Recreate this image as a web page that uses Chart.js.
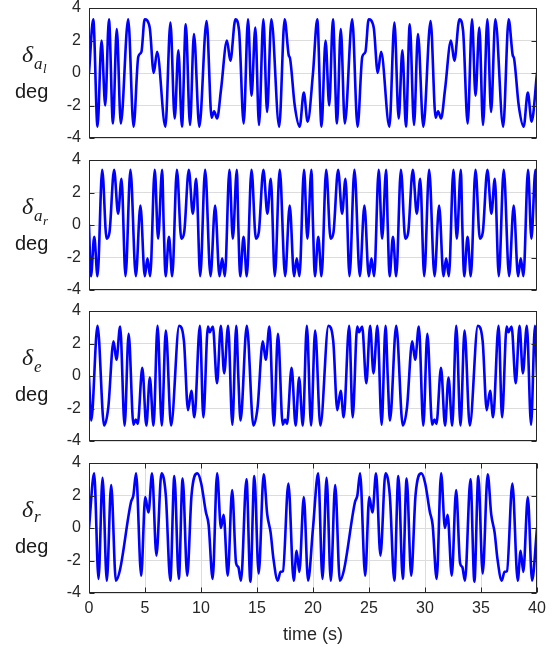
<!DOCTYPE html>
<html><head><meta charset="utf-8">
<script src="https://cdn.jsdelivr.net/npm/chart.js@4.4.0/dist/chart.umd.min.js"></script>
<style>
html,body{margin:0;padding:0;background:#fff;}
#wrap{position:relative;width:560px;height:648px;overflow:hidden;background:#fff;}
.pane{position:absolute;left:0;width:560px;}
canvas{display:block;}
</style></head><body>
<div id="wrap">
<div class="pane" style="top:0px;height:147px"><canvas id="c1" width="560" height="147"></canvas></div>
<div class="pane" style="top:150px;height:149px"><canvas id="c2" width="560" height="149"></canvas></div>
<div class="pane" style="top:300px;height:150px"><canvas id="c3" width="560" height="150"></canvas></div>
<div class="pane" style="top:452px;height:196px"><canvas id="c4" width="560" height="196"></canvas></div>
</div>
<script>
// ---- data (time s, deflection deg) ----
const xTicks = [0, 5, 10, 15, 20, 25, 30, 35, 40];
const yTicks = [-4, -2, 0, 2, 4];
const xTitle = 'time (s)';
const yUnit = 'deg';

const deltaAl = [[0,0],[0.38,3.3],[0.76,-3.3],[1.12,2.0],[1.45,-2.0],[1.78,3.3],[2.14,-3.1],[2.48,2.7],[2.84,-3.1],[3.50,3.3],[3.98,-3.3],[4.40,1.0],[4.68,1.3],[4.97,3.3],[5.42,2.8],[5.78,0.0],[6.08,1.3],[6.82,-3.3],[7.27,3.1],[7.65,-2.8],[7.98,1.4],[8.30,-3.3],[8.64,3.0],[9.02,-3.2],[9.37,2.4],[9.85,-3.3],[10.50,3.2],[10.95,-2.75],[11.17,-2.35],[11.44,-2.8],[11.79,-1.0],[12.32,2.0],[12.62,0.75],[13.07,3.3],[13.40,2.6],[13.81,-3.1],[14.20,3.3],[14.51,-1.4],[14.85,2.8],[15.18,-3.2],[15.57,3.3],[15.90,-2.4],[16.28,3.3],[16.98,-3.3],[17.47,3.3],[17.83,1.1],[17.95,0.9],[18.37,-2.0],[18.81,-3.3],[19.18,-1.2],[19.52,-3.0],
[20.00,0],[20.38,3.3],[20.76,-3.3],[21.12,2.0],[21.45,-2.0],[21.78,3.3],[22.14,-3.1],[22.48,2.7],[22.84,-3.1],[23.50,3.3],[23.98,-3.3],[24.40,1.0],[24.68,1.3],[24.97,3.3],[25.42,2.8],[25.78,0.0],[26.08,1.3],[26.82,-3.3],[27.27,3.1],[27.65,-2.8],[27.98,1.4],[28.30,-3.3],[28.64,3.0],[29.02,-3.2],[29.37,2.4],[29.85,-3.3],[30.50,3.2],[30.95,-2.75],[31.17,-2.35],[31.44,-2.8],[31.79,-1.0],[32.32,2.0],[32.62,0.75],[33.07,3.3],[33.40,2.6],[33.81,-3.1],[34.20,3.3],[34.51,-1.4],[34.85,2.8],[35.18,-3.2],[35.57,3.3],[35.90,-2.4],[36.28,3.3],[36.98,-3.3],[37.47,3.3],[37.83,1.1],[37.95,0.9],[38.37,-2.0],[38.81,-3.3],[39.18,-1.2],[39.52,-3.0],[40.00,0]];

const deltaAr = [[0,0],[0.17,-3.15],[0.47,-0.73],[0.76,-3.15],[1.18,3.4],[1.57,-0.84],[1.83,-0.45],[2.24,3.4],[2.60,0.7],[2.90,2.85],[3.26,-3.15],[3.70,3.4],[4.18,-3.15],[4.59,1.2],[4.98,-3.15],[5.22,-2.05],[5.46,-3.15],[5.87,3.4],[6.17,-0.84],[6.53,3.4],
[6.67,0],[6.84,-3.15],[7.14,-0.73],[7.43,-3.15],[7.85,3.4],[8.24,-0.84],[8.50,-0.45],[8.91,3.4],[9.27,0.7],[9.57,2.85],[9.93,-3.15],[10.37,3.4],[10.85,-3.15],[11.26,1.2],[11.65,-3.15],[11.89,-2.05],[12.13,-3.15],[12.54,3.4],[12.84,-0.84],[13.20,3.4],
[13.33,0],[13.50,-3.15],[13.80,-0.73],[14.09,-3.15],[14.51,3.4],[14.90,-0.84],[15.16,-0.45],[15.57,3.4],[15.93,0.7],[16.23,2.85],[16.59,-3.15],[17.03,3.4],[17.51,-3.15],[17.92,1.2],[18.31,-3.15],[18.55,-2.05],[18.79,-3.15],[19.20,3.4],[19.50,-0.84],[19.86,3.4],
[20.00,0],[20.17,-3.15],[20.47,-0.73],[20.76,-3.15],[21.18,3.4],[21.57,-0.84],[21.83,-0.45],[22.24,3.4],[22.60,0.7],[22.90,2.85],[23.26,-3.15],[23.70,3.4],[24.18,-3.15],[24.59,1.2],[24.98,-3.15],[25.22,-2.05],[25.46,-3.15],[25.87,3.4],[26.17,-0.84],[26.53,3.4],
[26.67,0],[26.84,-3.15],[27.14,-0.73],[27.43,-3.15],[27.85,3.4],[28.24,-0.84],[28.50,-0.45],[28.91,3.4],[29.27,0.7],[29.57,2.85],[29.93,-3.15],[30.37,3.4],[30.85,-3.15],[31.26,1.2],[31.65,-3.15],[31.89,-2.05],[32.13,-3.15],[32.54,3.4],[32.84,-0.84],[33.20,3.4],
[33.33,0],[33.50,-3.15],[33.80,-0.73],[34.09,-3.15],[34.51,3.4],[34.90,-0.84],[35.16,-0.45],[35.57,3.4],[35.93,0.7],[36.23,2.85],[36.59,-3.15],[37.03,3.4],[37.51,-3.15],[37.92,1.2],[38.31,-3.15],[38.55,-2.05],[38.79,-3.15],[39.20,3.4],[39.50,-0.84],[39.86,3.4],[40.00,0]];

const deltaE = [[0,0],[0.20,-2.74],[0.76,3.09],[1.35,-3.05],[1.72,-1.95],[2.19,2.13],[2.45,1.0],[2.78,3.05],[3.18,-3.05],[3.54,2.6],[3.97,-3.0],[4.17,-2.68],[4.35,-2.95],[4.76,0.5],[5.12,-3.05],[5.43,-0.1],[5.76,-3.05],[6.12,3.09],[6.50,-3.05],[6.86,2.8],[7.33,-3.05],[8.05,3.09],[8.48,2.13],[8.84,-2.1],[9.14,-0.91],[9.41,-2.54],[9.90,3.09],[10.21,-2.54],[10.62,3.05],[10.78,2.7],[11.06,3.05],[11.43,-0.45],[11.77,3.09],[12.07,0.16],[12.42,3.09],[12.80,-3.0],[13.15,3.09],
[13.33,0],[13.53,-2.74],[14.09,3.09],[14.68,-3.05],[15.05,-1.95],[15.52,2.13],[15.78,1.0],[16.11,3.05],[16.51,-3.05],[16.87,2.6],[17.30,-3.0],[17.50,-2.68],[17.68,-2.95],[18.09,0.5],[18.45,-3.05],[18.76,-0.1],[19.09,-3.05],[19.45,3.09],[19.83,-3.05],[20.19,2.8],[20.66,-3.05],[21.38,3.09],[21.81,2.13],[22.17,-2.1],[22.47,-0.91],[22.74,-2.54],[23.23,3.09],[23.54,-2.54],[23.95,3.05],[24.11,2.7],[24.39,3.05],[24.76,-0.45],[25.10,3.09],[25.40,0.16],[25.75,3.09],[26.13,-3.0],[26.48,3.09],
[26.67,0],[26.87,-2.74],[27.43,3.09],[28.02,-3.05],[28.39,-1.95],[28.86,2.13],[29.12,1.0],[29.45,3.05],[29.85,-3.05],[30.21,2.6],[30.64,-3.0],[30.84,-2.68],[31.02,-2.95],[31.43,0.5],[31.79,-3.05],[32.10,-0.1],[32.43,-3.05],[32.79,3.09],[33.17,-3.05],[33.53,2.8],[34.00,-3.05],[34.72,3.09],[35.15,2.13],[35.51,-2.1],[35.81,-0.91],[36.08,-2.54],[36.57,3.09],[36.88,-2.54],[37.29,3.05],[37.45,2.7],[37.73,3.05],[38.10,-0.45],[38.44,3.09],[38.74,0.16],[39.09,3.09],[39.47,-3.0],[39.82,3.09],[40.00,0]];

const deltaR = [[0,0],[0.46,3.36],[0.85,-3.13],[1.21,3.09],[1.59,-3.24],[1.98,2.64],[2.40,-3.24],[2.76,-2.6],[3.75,1.6],[3.96,2.0],[4.20,3.36],[4.66,-2.93],[5.02,1.9],[5.31,0.95],[5.63,3.36],[6.02,-1.7],[6.47,3.36],[6.86,2.0],[7.26,-3.24],[7.62,3.2],[8.02,-3.13],[8.36,3.05],[8.77,-2.93],[9.15,1.98],[9.68,3.36],[10.02,2.74],[10.43,1.0],[10.68,0.2],[11.04,-3.13],[11.44,3.36],[11.78,0.0],[12.02,0.82],[12.39,-2.93],[12.78,2.33],[13.13,-2.15],[13.33,-2.4],[13.57,-3.24],[14.06,3.0],[14.41,-3.3],[14.76,3.2],[15.15,-2.8],[15.60,3.3],[15.91,0.85],[16.22,-0.3],[16.47,-1.9],[16.85,-3.24],[17.10,-2.7],[17.32,-2.65],[17.80,2.74],[18.28,-3.24],[18.54,-1.4],[18.78,-2.7],[19.18,1.9],[19.56,-3.24],
[20.00,0],[20.46,3.36],[20.85,-3.13],[21.21,3.09],[21.59,-3.24],[21.98,2.64],[22.40,-3.24],[22.76,-2.6],[23.75,1.6],[23.96,2.0],[24.20,3.36],[24.66,-2.93],[25.02,1.9],[25.31,0.95],[25.63,3.36],[26.02,-1.7],[26.47,3.36],[26.86,2.0],[27.26,-3.24],[27.62,3.2],[28.02,-3.13],[28.36,3.05],[28.77,-2.93],[29.15,1.98],[29.68,3.36],[30.02,2.74],[30.43,1.0],[30.68,0.2],[31.04,-3.13],[31.44,3.36],[31.78,0.0],[32.02,0.82],[32.39,-2.93],[32.78,2.33],[33.13,-2.15],[33.33,-2.4],[33.57,-3.24],[34.06,3.0],[34.41,-3.3],[34.76,3.2],[35.15,-2.8],[35.60,3.3],[35.91,0.85],[36.22,-0.3],[36.47,-1.9],[36.85,-3.24],[37.10,-2.7],[37.32,-2.65],[37.80,2.74],[38.28,-3.24],[38.54,-1.4],[38.78,-2.7],[39.18,1.9],[39.56,-3.24],[40.00,0]];

// ---- drawing ----
const FONT = '"Liberation Sans", Arial, Helvetica, sans-serif';
const AX = '#262626';
const GRID = '#dcdcdc';

const matlabAxes = {
  id: 'matlabAxes',
  afterDraw(chart, args, o) {
    const {ctx, chartArea: a, scales} = chart;
    ctx.save();
    ctx.strokeStyle = AX;
    ctx.lineWidth = 1;
    ctx.beginPath();
    const L = Math.round(a.left) + 0.5, R = Math.round(a.right) - 0.5;
    const T = Math.round(a.top) + 0.5, B = Math.round(a.bottom) - 0.5;
    scales.y.ticks.forEach(t => {
      const py = Math.round(scales.y.getPixelForValue(t.value)) + 0.5;
      ctx.moveTo(L, py); ctx.lineTo(L + 5, py);
      ctx.moveTo(R, py); ctx.lineTo(R - 5, py);
    });
    if (o.xticks) {
      scales.x.ticks.forEach(t => {
        const px = Math.round(scales.x.getPixelForValue(t.value)) + 0.5;
        ctx.moveTo(px, B); ctx.lineTo(px, B - 5);
        ctx.moveTo(px, T); ctx.lineTo(px, T + 5);
      });
    }
    ctx.stroke();
    ctx.strokeRect(L, T, R - L, B - T);
    // y-axis label
    const cy = (a.top + a.bottom) / 2;
    ctx.fillStyle = '#1a1a1a';
    ctx.textAlign = 'left';
    ctx.textBaseline = 'alphabetic';
    ctx.font = 'italic 24px "Liberation Serif", "DejaVu Serif", serif';
    ctx.fillText('δ', 22, cy - 11);
    ctx.font = 'italic 17px "Liberation Serif", "DejaVu Serif", serif';
    ctx.fillText(o.sub, 34, cy - 4 + (o.subDy || 0));
    if (o.subsub) {
      ctx.font = 'italic 13px "Liberation Serif", "DejaVu Serif", serif';
      ctx.fillText(o.subsub, 43, cy);
    }
    ctx.font = '20px ' + FONT;
    ctx.fillText(yUnit, 15, cy + 25);
    ctx.restore();
  }
};

function makeChart(id, series, lab, isBottom, padTop, padBottom) {
  const pts = series.map(p => ({x: p[0], y: p[1]}));
  return new Chart(document.getElementById(id), {
    type: 'line',
    data: {datasets: [{data: pts, borderColor: '#0000ff', borderWidth: 2.6, pointRadius: 0,
      fill: false, cubicInterpolationMode: 'monotone', borderJoinStyle: 'round', borderCapStyle: 'round'}]},
    options: {
      responsive: false, animation: false, events: [],
      layout: {padding: {left: 0, right: 23, top: padTop, bottom: padBottom}},
      plugins: {legend: {display: false}, tooltip: {enabled: false},
        matlabAxes: Object.assign({xticks: isBottom}, lab)},
      scales: {
        x: {type: 'linear', min: 0, max: 40, display: isBottom, position: 'bottom',
          afterBuildTicks(s) { s.ticks = xTicks.map(v => ({value: v})); },
          ticks: {color: AX, font: {family: FONT, size: 16}, padding: 6, maxRotation: 0, autoSkip: false},
          grid: {display: true, color: GRID, lineWidth: 1, drawTicks: false},
          border: {display: false},
          title: {display: true, text: xTitle, color: AX, font: {family: FONT, size: 18}, padding: {top: 0, bottom: 2}},
          afterFit(s) { s.height = isBottom ? 55 : 0; s.paddingLeft = 0; s.paddingRight = 0; }},
        y: {type: 'linear', min: -4, max: 4, position: 'left',
          afterBuildTicks(s) { s.ticks = yTicks.map(v => ({value: v})); },
          ticks: {color: AX, font: {family: FONT, size: 16}, padding: 8},
          grid: {color: GRID, lineWidth: 1, drawTicks: false},
          border: {display: false},
          afterFit(s) { s.width = 89; s.paddingTop = 0; s.paddingBottom = 0; }}
      }
    },
    plugins: [matlabAxes]
  });
}

makeChart('c1', deltaAl, {sub: 'a', subsub: 'l'}, false, 8, 9);
makeChart('c2', deltaAr, {sub: 'a', subsub: 'r'}, false, 10, 9);
makeChart('c3', deltaE, {sub: 'e'}, false, 11, 9);
makeChart('c4', deltaR, {sub: 'r', subDy: -2}, true, 11, 0);
</script>
</body></html>
